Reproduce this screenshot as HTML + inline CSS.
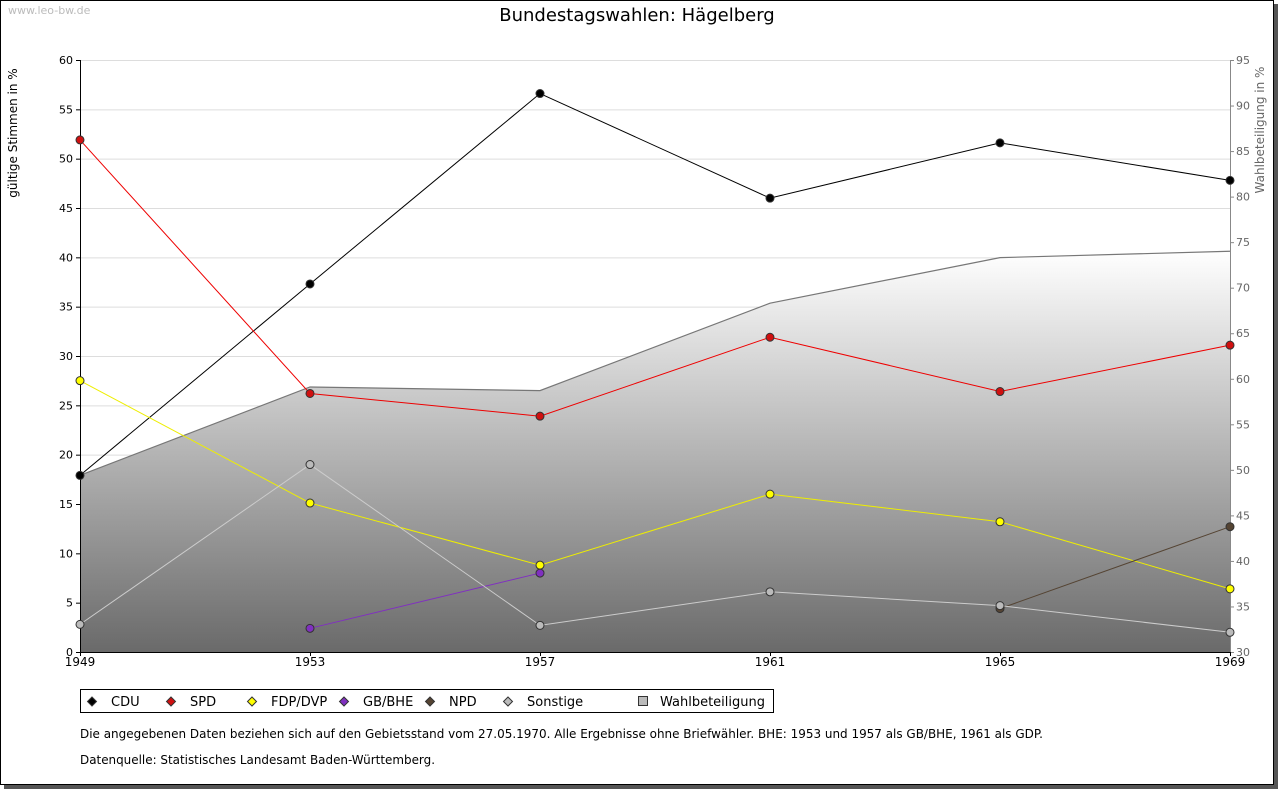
<!DOCTYPE html>
<html><head><meta charset="utf-8"><style>
body{margin:0;background:#fff;font-family:"DejaVu Sans",sans-serif}
</style></head><body>
<svg id="chart" width="1280" height="791" xmlns="http://www.w3.org/2000/svg" font-family="DejaVu Sans, sans-serif">
<defs>
<linearGradient id="wg" x1="0" y1="0" x2="0" y2="1">
<stop offset="0" stop-color="#ffffff"/><stop offset="1" stop-color="#6a6a6a"/>
</linearGradient>
</defs>
<rect x="4" y="4" width="1274" height="785" fill="#555"/>
<rect x="0.5" y="0.5" width="1273" height="784" fill="#fff" stroke="#000"/>
<text x="8" y="14" font-size="11" fill="#bbb">www.leo-bw.de</text>
<text x="637" y="21" font-size="18" text-anchor="middle">Bundestagswahlen: Hägelberg</text>
<g id="grid"></g>
<g id="area"></g>
<g id="axes"></g>
<g id="series"></g>
<text transform="translate(17,133) rotate(-90)" font-size="12" text-anchor="middle">gültige Stimmen in %</text>
<text transform="translate(1264,130) rotate(-90)" font-size="12" text-anchor="middle" fill="#666">Wahlbeteiligung in %</text>
<rect x="80.5" y="689.5" width="693" height="23" fill="#fff" stroke="#000"/>
<g id="legend"></g>
<text x="80" y="738" font-size="12" textLength="963" lengthAdjust="spacingAndGlyphs">Die angegebenen Daten beziehen sich auf den Gebietsstand vom 27.05.1970. Alle Ergebnisse ohne Briefwähler. BHE: 1953 und 1957 als GB/BHE, 1961 als GDP.</text>
<text x="80" y="764" font-size="12" textLength="355" lengthAdjust="spacingAndGlyphs">Datenquelle: Statistisches Landesamt Baden-Württemberg.</text>
</svg>
<script>
const years=["1949","1953","1957","1961","1965","1969"];
const cdu=[17.9,37.3,56.6,46.0,51.6,47.8];
const spd=[51.9,26.2,23.9,31.9,26.4,31.1];
const fdp=[27.5,15.1,8.8,16.0,13.2,6.4];
const gbbhe=[null,2.4,8.0,null,null,null];
const npd=[null,null,null,null,4.4,12.7];
const sonstige=[2.8,19.0,2.7,6.1,4.7,2.0];
const turnout=[49.4,59.1,58.7,68.3,73.3,74.0];
const leftTicks=[0,5,10,15,20,25,30,35,40,45,50,55,60];
const rightTicks=[30,35,40,45,50,55,60,65,70,75,80,85,90,95];

const NS="http://www.w3.org/2000/svg";
const X0=80,X1=1230,Y0=652,Y1=60;
const x=i=>X0+(X1-X0)*i/(years.length-1);
const yl=v=>Y0-(v-0)/(60-0)*(Y0-Y1);
const yr=v=>Y0-(v-30)/(95-30)*(Y0-Y1);
function mk(tag,attrs,parent){const e=document.createElementNS(NS,tag);for(const k in attrs)e.setAttribute(k,attrs[k]);document.getElementById(parent).appendChild(e);return e;}

leftTicks.forEach(t=>{
 const g=mk('line',{x1:X0,x2:X1,y1:yl(t)+.5,y2:yl(t)+.5,stroke:'#ddd'},'grid');
 
 
 const l=mk('text',{x:73,y:yl(t)+4,'font-size':11,'text-anchor':'end'},'axes');l.textContent=t;
 
 
 mk('line',{x1:76,x2:80,y1:yl(t)+.5,y2:yl(t)+.5,stroke:'#000'},'axes');
});
rightTicks.forEach(t=>{
 const l=mk('text',{x:1236,y:yr(t)+4,'font-size':11,fill:'#666'},'axes');l.textContent=t;
 
 
 mk('line',{x1:X1,x2:X1+4,y1:yr(t)+.5,y2:yr(t)+.5,stroke:'#888'},'axes');
});
years.forEach((yv,i)=>{
 const l=mk('text',{x:x(i),y:666,'font-size':12,'text-anchor':'middle'},'axes');l.textContent=yv;
 
 
 mk('line',{x1:x(i)+.5,x2:x(i)+.5,y1:Y0,y2:Y0+4,stroke:'#000'},'axes');
});
mk('line',{x1:X0+.5,x2:X0+.5,y1:Y1,y2:Y0,stroke:'#000'},'axes');
mk('line',{x1:X1+.5,x2:X1+.5,y1:Y1,y2:Y0,stroke:'#888'},'axes');
mk('line',{x1:X0,x2:X1,y1:Y0+.5,y2:Y0+.5,stroke:'#000'},'axes');

let ap=`M${x(0)},${Y0} `+turnout.map((v,i)=>`L${x(i)},${yr(v)}`).join(' ')+` L${x(5)},${Y0} Z`;
const area=mk('path',{d:ap,fill:'url(#wg)'},'area');


const aline=mk('polyline',{points:turnout.map((v,i)=>x(i)+','+yr(v)).join(' '),fill:'none',stroke:'#777','stroke-width':1.2},'area');



const series=[
 ['cdu',cdu,'#000','#000'],['spd',spd,'#e00','#d01010'],['fdp',fdp,'#ee0','#ff0'],
 ['gbbhe',gbbhe,'#8030c0','#8030c0'],['npd',npd,'#554433','#554433'],['sonstige',sonstige,'#ccc','#bbb']];
series.forEach(([n,arr,lc,fc])=>{
 const pts=[];arr.forEach((v,i)=>{if(v!==null)pts.push(x(i)+','+yl(v));});
 const pl=mk('polyline',{points:pts.join(' '),fill:'none',stroke:lc,'stroke-width':1},'series');
 
 
});
series.forEach(([n,arr,lc,fc])=>{
 arr.forEach((v,i)=>{if(v===null)return;
  const c=mk('circle',{cx:x(i),cy:yl(v),r:4,fill:fc,stroke:'#333','stroke-width':1},'series');
  
  
 });
});

const leg=[['CDU','#000',92],['SPD','#d01010',171],['FDP/DVP','#ff0',252],['GB/BHE','#8030c0',344],['NPD','#554433',430],['Sonstige','#bbb',508]];
leg.forEach(([t,c,lx])=>{
 const d=mk('path',{d:`M${lx},${697} l4.5,4.5 l-4.5,4.5 l-4.5,-4.5 Z`,fill:c,stroke:'#333'},'legend');
 
 
 const tx=mk('text',{x:lx+19,y:706,'font-size':13},'legend');tx.textContent=t;
 
 
});
const sq=mk('rect',{x:638.5,y:696.5,width:9,height:9,fill:'#bbb',stroke:'#333'},'legend');


const wt=mk('text',{x:660,y:706,'font-size':13},'legend');wt.textContent='Wahlbeteiligung';


</script>
</body></html>
